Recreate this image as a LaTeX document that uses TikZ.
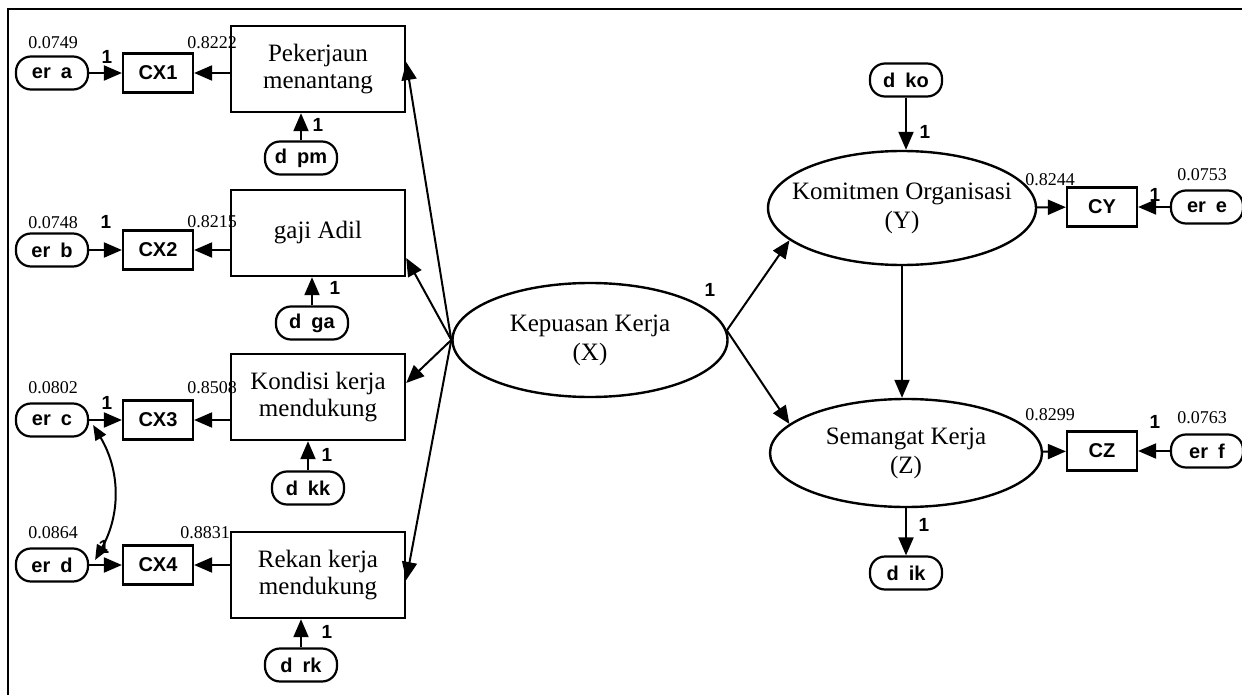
\documentclass[tikz,border=0pt]{standalone}
\usepackage{fontspec}
\setmainfont{Liberation Serif}
\newfontfamily\lblfont{Liberation Sans}
\usetikzlibrary{arrows.meta,shapes.geometric}

\newcommand{\zw}[1]{\makebox[0pt]{#1}}
\newcommand{\gap}{\hspace{0.5em}}

\tikzset{
	latent/.style={draw, ellipse, line width=2.4pt, inner sep=0pt, align=center, font=\fontsize{25}{29}\selectfont},
	factor/.style={draw, rectangle, line width=2.4pt, minimum width=174pt, minimum height=86pt, inner sep=0pt, align=center, font=\fontsize{25}{27}\selectfont},
	obs/.style={draw, rectangle, line width=2.2pt, minimum width=70pt, minimum height=39pt, inner sep=0pt, font=\lblfont\bfseries\fontsize{20}{20}\selectfont},
	err/.style={draw, rectangle, rounded corners=15pt, line width=2.2pt, minimum width=72pt, minimum height=33pt, inner sep=0pt, font=\lblfont\bfseries\fontsize{20}{20}\selectfont},
	coef/.style={inner sep=0pt, font=\fontsize{18}{18}\selectfont},
	one/.style={inner sep=0pt, font=\lblfont\bfseries\fontsize{19}{19}\selectfont},
	arr/.style={line width=2pt, -{Triangle[length=18pt,width=15pt]}},
	covarr/.style={line width=2pt, {Triangle[length=15pt,width=12pt]}-{Triangle[length=15pt,width=12pt]}}
}

\begin{document}
\begin{tikzpicture}[x=1pt,y=-1pt]
		\useasboundingbox (0,0) rectangle (1242,695);
		%Frame
		\draw[line width=2pt] (8,695) -- (8,9) -- (1242,9);
		
		%Pekerjaun menantang
		\node[factor] (pm) at (318,69) {Pekerjaun\\menantang};
		\node[obs] (cx1) at (158,73) {CX1};
		\node[err] (era) at (52,73) {er\gap a};
		\node[err] (dpm) at (301,158) {d\gap pm};
		\node[coef] (ka) at (53,43) {0.0749};
		\node[coef] (la) at (212,43) {0.8222};
		\node[one] (oa) at (107,57) {1};
		\node[one] (opm) at (318,125) {1};
		\draw[arr] (era) -- (cx1);
		\draw[arr] (cx1 -| pm.west) -- (cx1);
		\draw[arr] (dpm) -- (dpm |- pm.south);
		
		%gaji Adil
		\node[factor] (ga) at (318,233) {gaji Adil};
		\node[obs] (cx2) at (158,250) {CX2};
		\node[err] (erb) at (52,250) {er\gap b};
		\node[err] (dga) at (312,323) {d\gap ga};
		\node[coef] (kb) at (53,223) {0.0748};
		\node[coef] (lb) at (212,222) {0.8215};
		\node[one] (ob) at (106,222) {1};
		\node[one] (oga) at (335,288) {1};
		\draw[arr] (erb) -- (cx2);
		\draw[arr] (cx2 -| ga.west) -- (cx2);
		\draw[arr] (dga) -- (dga |- ga.south);
		
		%Kondisi kerja mendukung
		\node[factor] (kk) at (318,397) {Kondisi kerja\\mendukung};
		\node[obs] (cx3) at (158,420) {CX3};
		\node[err] (erc) at (52,420) {er\gap c};
		\node[err] (dkk) at (308,488) {d\gap kk};
		\node[coef] (kc) at (53,388) {0.0802};
		\node[coef] (lc) at (212,388) {0.8508};
		\node[one] (oc) at (107,403) {1};
		\node[one] (okk) at (327,455) {1};
		\draw[arr] (erc) -- (cx3);
		\draw[arr] (cx3 -| kk.west) -- (cx3);
		\draw[arr] (dkk) -- (dkk |- kk.south);
		
		%Rekan kerja mendukung
		\node[factor] (rk) at (318,575) {Rekan kerja\\mendukung};
		\node[obs] (cx4) at (158,565) {CX4};
		\node[err] (erd) at (52,565) {er\gap d};
		\node[err] (drk) at (301,665) {d\gap rk};
		\node[coef] (kd) at (53,533) {0.0864};
		\node[coef] (ld) at (205,533) {0.8831};
		\node[one] (od) at (104,547) {1};
		\node[one] (ork) at (327,632) {1};
		\draw[arr] (erd) -- (cx4);
		\draw[arr] (cx4 -| rk.west) -- (cx4);
		\draw[arr] (drk) -- (drk |- rk.south);
		
		\draw[covarr] ([xshift=4pt,yshift=-5pt]erc.east) to[bend left=30] ([xshift=6pt,yshift=5pt]erd.east);
		
		%Kepuasan Kerja
		\node[latent, minimum width=275pt, minimum height=114pt] (X) at (590,340) {\zw{Kepuasan Kerja}\\\zw{(X)}};
		\node[one] (ox) at (710,290) {1};
		\draw[arr] (X.west) -- ([yshift=7pt]pm.east);
		\draw[arr] (X.west) -- ([yshift=-25pt]ga.east);
		\draw[arr] (X.west) -- ([yshift=14pt]kk.east);
		\draw[arr] (X.west) -- ([yshift=-5pt]rk.east);
		
		%Komitmen Organisasi
		\node[latent, minimum width=268pt, minimum height=114pt] (Y) at (902,208) {\zw{Komitmen Organisasi}\\\zw{(Y)}};
		\node[err] (dko) at (906,80) {d\gap ko};
		\node[obs] (cy) at (1102,207) {CY};
		\node[err] (ere) at (1207,207) {er\gap e};
		\node[coef] (ly) at (1050,180) {0.8244};
		\node[coef] (ke) at (1202,175) {0.0753};
		\node[one] (oe) at (1155,195) {1};
		\node[one] (oko) at (925,132) {1};
		\draw[arr] (dko) -- (dko |- Y.north);
		\draw[arr] (Y) -- (cy);
		\draw[arr] (ere) -- (cy);
		
		%Semangat Kerja
		\node[latent, minimum width=272pt, minimum height=108pt] (Z) at (906,453) {\zw{Semangat Kerja}\\\zw{(Z)}};
		\node[err] (dik) at (906,573) {d\gap ik};
		\node[obs] (cz) at (1102,451) {CZ};
		\node[err] (erf) at (1207,451) {er\gap f};
		\node[coef] (lz) at (1050,415) {0.8299};
		\node[coef] (kf) at (1202,418) {0.0763};
		\node[one] (of) at (1155,422) {1};
		\node[one] (oik) at (924,525) {1};
		\draw[arr] (Z) -- (cz);
		\draw[arr] (erf) -- (cz);
		\draw[arr] (Z) -- (dik);
		
		\draw[arr] (Y) -- (Y |- Z.north);
		\draw[arr] (X.4) -- (Y.196);
		\draw[arr] (X.4) -- (Z.166);
		
	\end{tikzpicture}
\end{document}
